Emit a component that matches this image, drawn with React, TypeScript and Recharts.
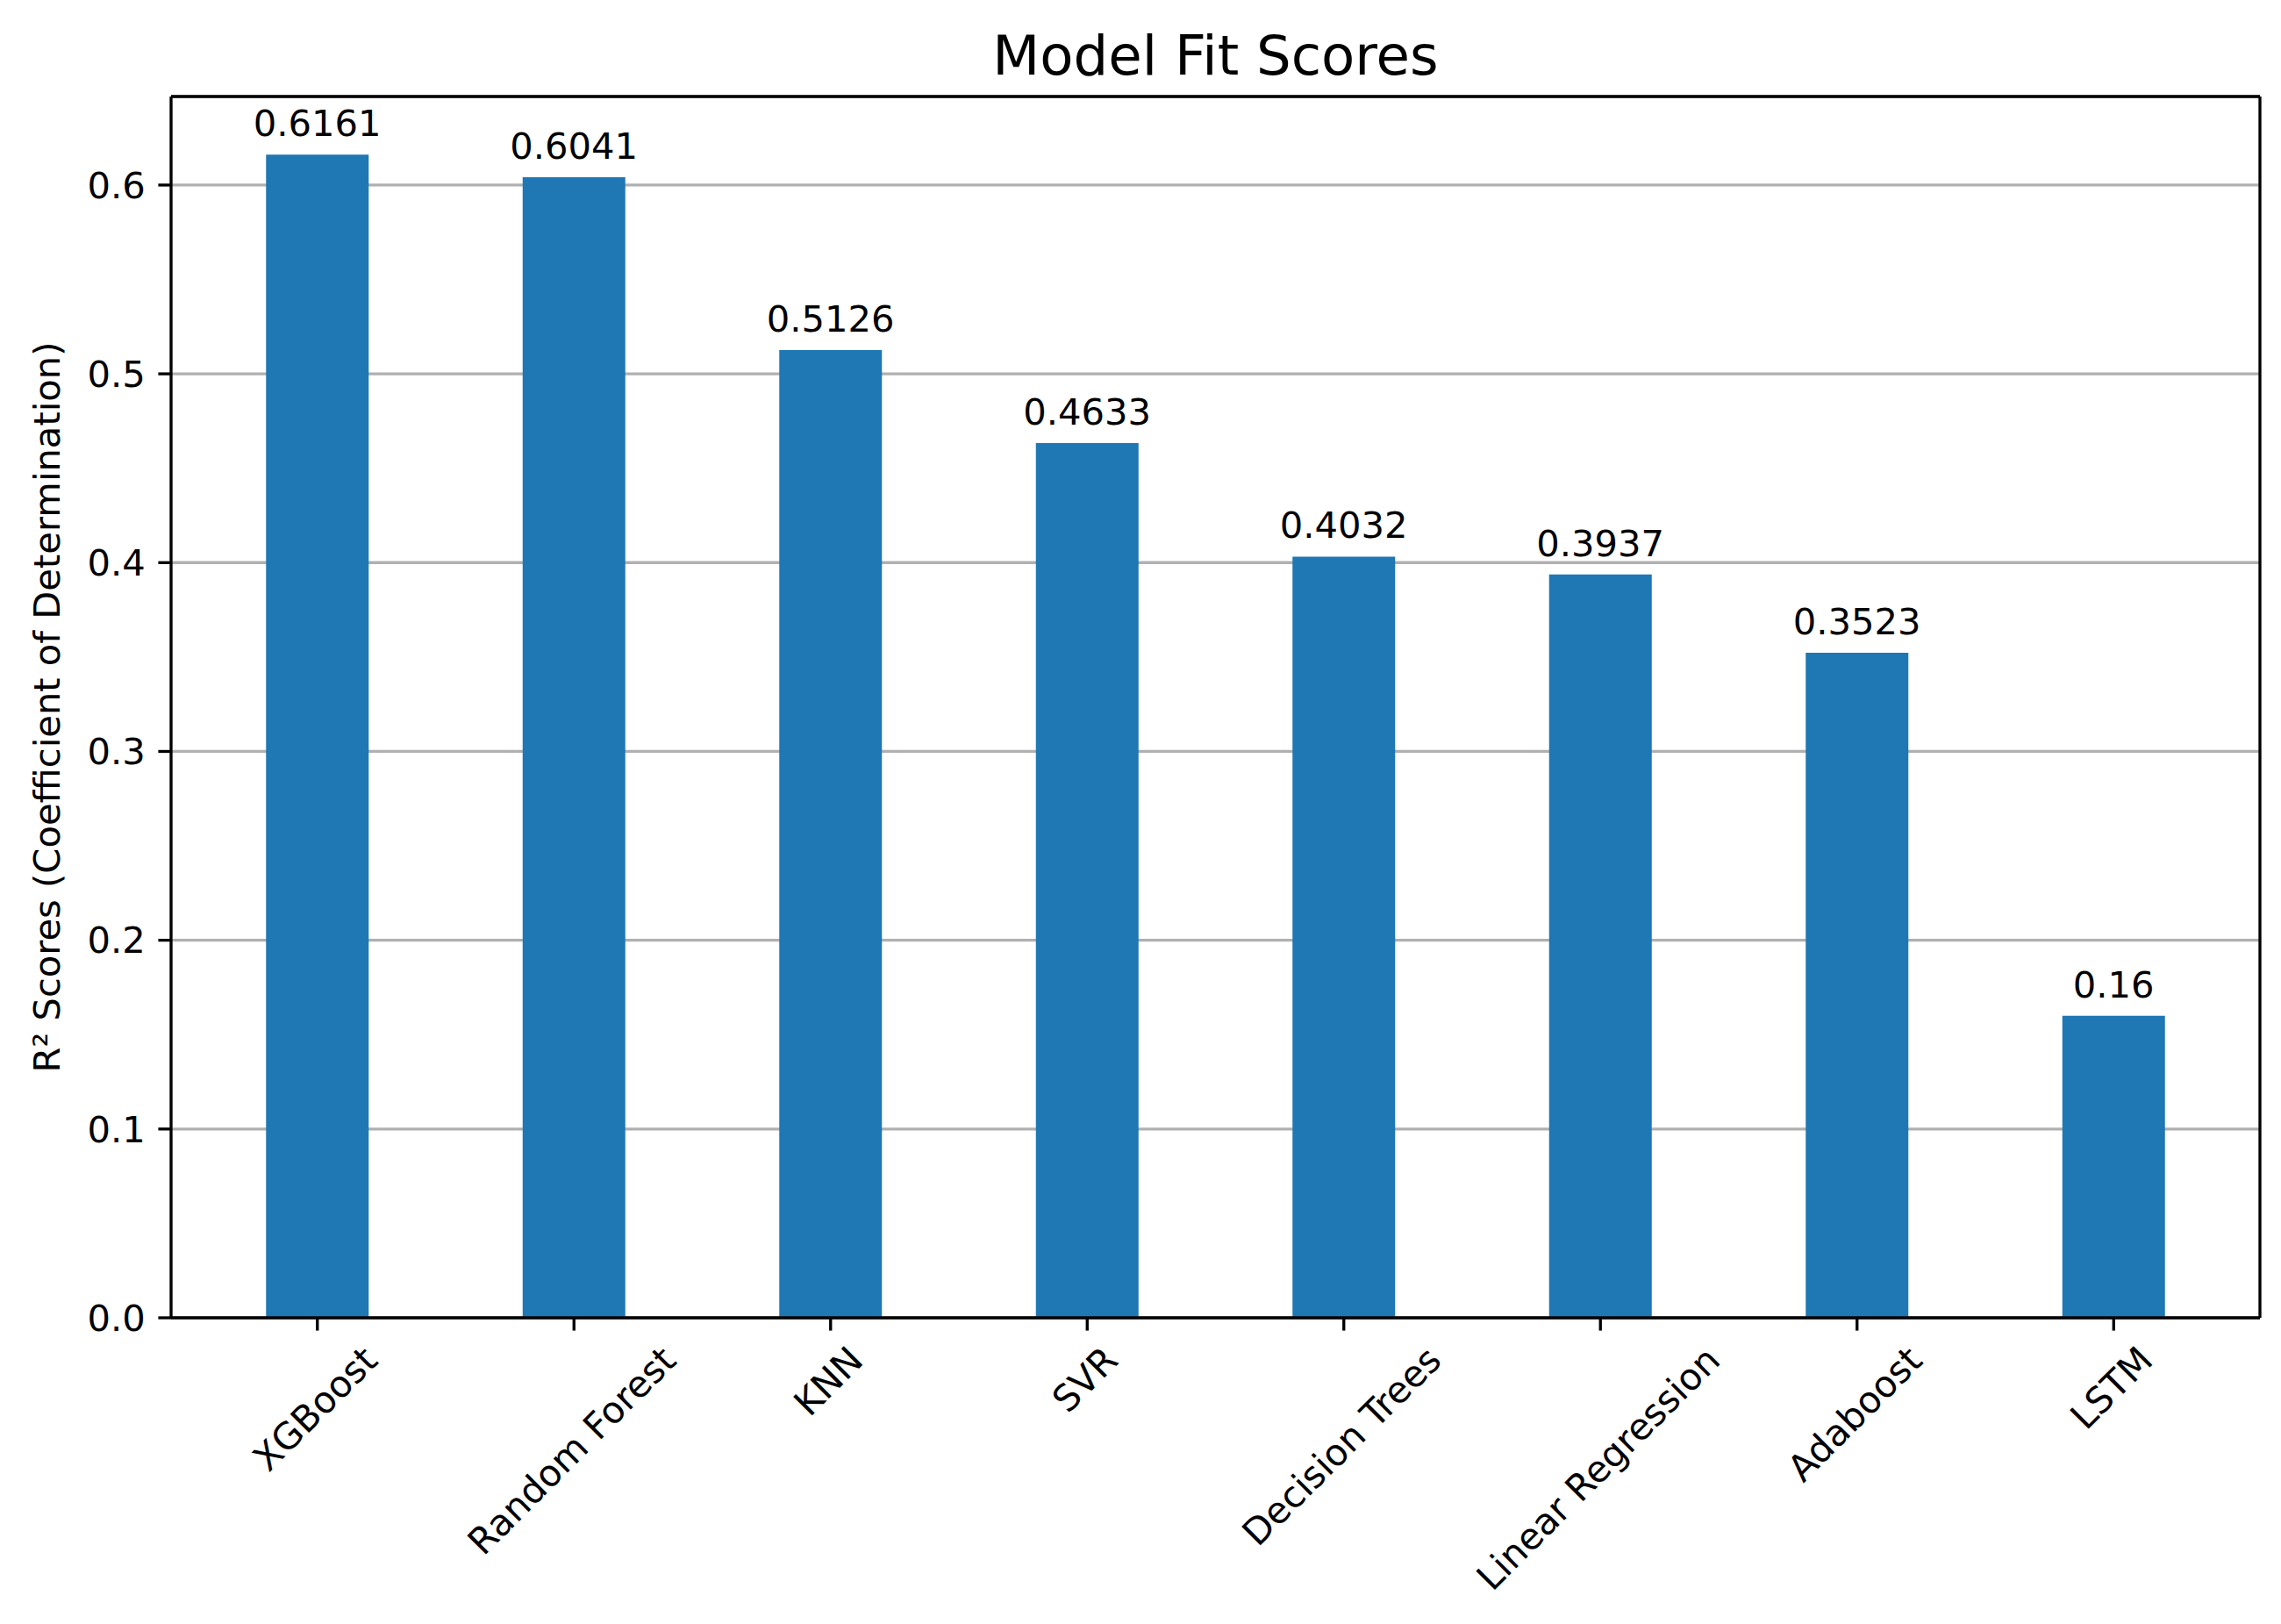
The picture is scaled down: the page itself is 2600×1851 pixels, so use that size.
import { Bar, BarChart, CartesianGrid, LabelList, XAxis, YAxis } from 'recharts'

const models = ['XGBoost', 'Random Forest', 'KNN', 'SVR', 'Decision Trees', 'Linear Regression', 'Adaboost', 'LSTM']
const scores = [0.6161, 0.6041, 0.5126, 0.4633, 0.4032, 0.3937, 0.3523, 0.16]
const yTicks = [0, 0.1, 0.2, 0.3, 0.4, 0.5, 0.6]
const yMax = 0.6469 // 5% headroom over the tallest bar, like matplotlib's autoscale

const title = 'Model Fit Scores'
const yLabel = 'R² Scores (Coefficient of Determination)'

const W = 2600
const H = 1851
const FONT = '"DejaVu Sans", sans-serif'
const FS = 41.67
const LW = 3.33
const TICK = 14.6

let ctx: CanvasRenderingContext2D | null = null
function textWidth(s: string): number {
  if (!ctx) ctx = document.createElement('canvas').getContext('2d')
  if (!ctx) return s.length * FS * 0.6
  ctx.font = `${FS}px "DejaVu Sans"`
  return ctx.measureText(s).width
}

// rotated 45deg label whose bounding box is centred under the tick
function SlantTick({ x, y, payload }: any) {
  const w = textWidth(payload.value)
  const half = (w + FS * 0.95) / (2 * Math.SQRT2)
  return (
    <text
      transform={`translate(${x},${y + half}) rotate(-45)`}
      x={0}
      y={FS * 0.26}
      textAnchor="middle"
      fontSize={FS}
      fontFamily={FONT}
      fill="#000"
    >
      {payload.value}
    </text>
  )
}

export default function App() {
  const data = models.map((name, i) => ({ name, score: scores[i] }))
  const axisStyle = { stroke: '#000', strokeWidth: LW }

  return (
    <div style={{ position: 'absolute', left: 0, top: 0, width: W, height: H, background: '#fff' }}>
      <BarChart
        width={W}
        height={H}
        data={data}
        margin={{ top: 109, right: 23, left: 0, bottom: 0 }}
        barCategoryGap="30%"
      >
        <CartesianGrid xAxisId="x" yAxisId="y" vertical={false} stroke="#b0b0b0" strokeWidth={LW} />
        <XAxis
          xAxisId="x"
          dataKey="name"
          height={349}
          padding={{ left: 20.5, right: 20.5 }}
          interval={0}
          tick={SlantTick}
          tickSize={TICK}
          tickMargin={TICK}
          axisLine={axisStyle}
          tickLine={axisStyle}
        />
        {/* top and right spines to close the frame */}
        <XAxis xAxisId="top" dataKey="name" orientation="top" height={1} tick={false} tickLine={false} axisLine={axisStyle} />
        <YAxis
          yAxisId="y"
          width={195}
          domain={[0, yMax]}
          ticks={yTicks}
          tickFormatter={(v: number) => v.toFixed(1)}
          tickSize={TICK}
          tickMargin={TICK}
          tick={{ fontSize: FS, fill: '#000', fontFamily: FONT }}
          axisLine={axisStyle}
          tickLine={axisStyle}
        />
        <YAxis yAxisId="right" orientation="right" width={1} domain={[0, yMax]} tick={false} tickLine={false} axisLine={axisStyle} />
        <Bar xAxisId="x" yAxisId="y" dataKey="score" fill="#1f77b4" isAnimationActive={false}>
          <LabelList dataKey="score" position="top" offset={21} fill="#000" fontSize={FS} fontFamily={FONT} />
        </Bar>
      </BarChart>
      <svg width={W} height={H} style={{ position: 'absolute', left: 0, top: 0, pointerEvents: 'none' }}>
        <text x={1385.5} y={85} textAnchor="middle" fontSize={62.5} fontFamily={FONT} fill="#000">
          {title}
        </text>
        <text transform="translate(68,806) rotate(-90)" textAnchor="middle" fontSize={FS} fontFamily={FONT} fill="#000">
          {yLabel}
        </text>
      </svg>
    </div>
  )
}
